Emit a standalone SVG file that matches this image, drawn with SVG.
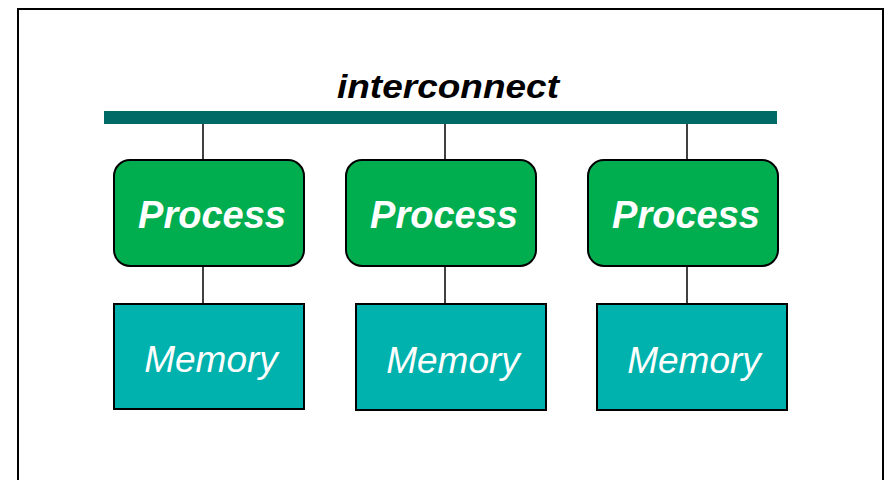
<svg xmlns="http://www.w3.org/2000/svg" width="888" height="480" viewBox="0 0 888 480">
  <style>
    .frame { fill: #ffffff; stroke: #000000; stroke-width: 2; }
    .bus { fill: #006b66; }
    .link { stroke: #000000; stroke-width: 1.5; fill: none; }
    .proc rect { fill: #00ae4f; stroke: #000000; stroke-width: 2; }
    .mem rect { fill: #00b2ad; stroke: #000000; stroke-width: 2; }
    .lbl { font-family: "Liberation Sans", Arial, sans-serif; font-style: italic; fill: #ffffff; text-anchor: middle; font-size: 37px; }
    .proc .lbl { font-weight: bold; font-size: 38px; }
    .title { font-family: "Liberation Sans", Arial, sans-serif; font-style: italic; font-weight: bold; fill: #000000; text-anchor: middle; font-size: 34px; }
  </style>

  <!-- outer frame -->
  <rect class="frame" x="18" y="9" width="865" height="490"/>

  <!-- shared bus -->
  <g id="interconnect">
    <text class="title" x="448" y="98" textLength="222" lengthAdjust="spacingAndGlyphs">interconnect</text>
    <rect class="bus" x="104" y="111" width="673" height="13"/>
  </g>

  <!-- links: bus to processes, processes to memories -->
  <g id="connectors">
    <line class="link" x1="203" y1="124" x2="203" y2="160"/>
    <line class="link" x1="445" y1="124" x2="445" y2="160"/>
    <line class="link" x1="687" y1="124" x2="687" y2="160"/>
    <line class="link" x1="203" y1="266" x2="203" y2="304"/>
    <line class="link" x1="445" y1="266" x2="445" y2="304"/>
    <line class="link" x1="687" y1="266" x2="687" y2="304"/>
  </g>

  <g id="process1" class="proc">
    <rect x="114" y="160" width="190" height="106" rx="16"/>
    <text class="lbl" x="212" y="228">Process</text>
  </g>
  <g id="process2" class="proc">
    <rect x="346" y="160" width="190" height="106" rx="16"/>
    <text class="lbl" x="444" y="228">Process</text>
  </g>
  <g id="process3" class="proc">
    <rect x="588" y="160" width="190" height="106" rx="16"/>
    <text class="lbl" x="686" y="228">Process</text>
  </g>

  <g id="memory1" class="mem">
    <rect x="114" y="304" width="190" height="105"/>
    <text class="lbl" x="211" y="372">Memory</text>
  </g>
  <g id="memory2" class="mem">
    <rect x="356" y="304" width="190" height="106"/>
    <text class="lbl" x="453" y="373">Memory</text>
  </g>
  <g id="memory3" class="mem">
    <rect x="597" y="304" width="190" height="106"/>
    <text class="lbl" x="694" y="373">Memory</text>
  </g>
</svg>
